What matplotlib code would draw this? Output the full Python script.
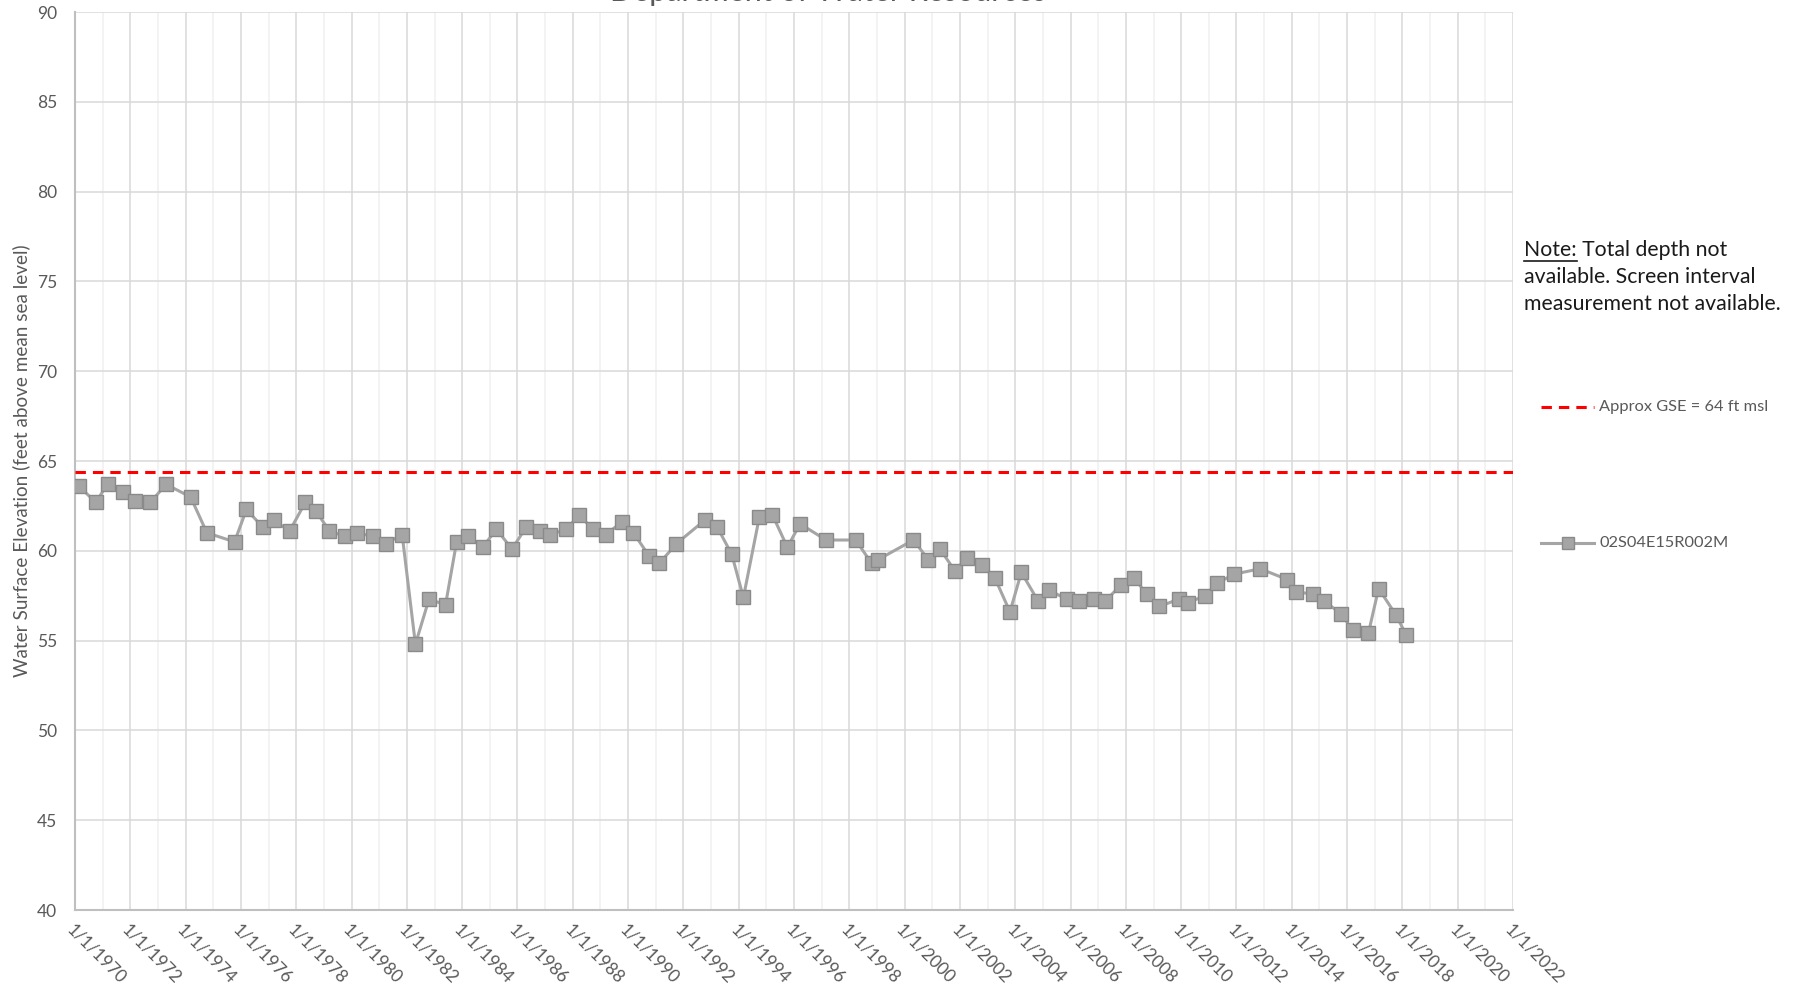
import matplotlib
matplotlib.use("Agg")
import matplotlib.pyplot as plt
from matplotlib.lines import Line2D
import numpy as np

# ---- data ----
years = [1970.14, 1970.75, 1971.19, 1971.75, 1972.17, 1972.73, 1973.29, 1974.18, 1974.77, 1975.77,
         1976.2, 1976.8, 1977.18, 1977.76, 1978.33, 1978.72, 1979.2, 1979.78, 1980.2, 1980.78,
         1981.23, 1981.83, 1982.31, 1982.8, 1983.4, 1983.8, 1984.22, 1984.74, 1985.24, 1985.8,
         1986.31, 1986.8, 1987.19, 1987.77, 1988.23, 1988.72, 1989.19, 1989.77, 1990.19, 1990.77,
         1991.13, 1991.75, 1992.77, 1993.23, 1993.75, 1994.17, 1994.75, 1995.22, 1995.76, 1996.22,
         1997.16, 1998.23, 1998.81, 1999.03, 2000.32, 2000.86, 2001.28, 2001.81, 2002.26, 2002.8,
         2003.26, 2003.81, 2004.22, 2004.83, 2005.23, 2005.87, 2006.29, 2006.86, 2007.25, 2007.83,
         2008.28, 2008.76, 2009.2, 2009.91, 2010.24, 2010.86, 2011.31, 2011.91, 2012.86, 2013.84,
         2014.16, 2014.78, 2015.18, 2015.77, 2016.2, 2016.77, 2017.14, 2017.78, 2018.14]
elevations = [63.6, 62.7, 63.74, 63.27, 62.8, 62.7, 63.7, 63.0, 61.0, 60.5,
              62.3, 61.3, 61.7, 61.1, 62.7, 62.2, 61.1, 60.8, 61.0, 60.8,
              60.4, 60.9, 54.8, 57.3, 57.0, 60.5, 60.8, 60.2, 61.2, 60.1,
              61.3, 61.1, 60.9, 61.2, 62.0, 61.2, 60.9, 61.6, 61.0, 59.7,
              59.3, 60.4, 61.7, 61.3, 59.8, 57.4, 61.9, 62.0, 60.2, 61.5,
              60.6, 60.6, 59.3, 59.5, 60.6, 59.5, 60.1, 58.9, 59.6, 59.2,
              58.5, 56.6, 58.8, 57.2, 57.8, 57.3, 57.2, 57.3, 57.2, 58.1,
              58.5, 57.6, 56.9, 57.3, 57.1, 57.5, 58.2, 58.7, 59.0, 58.4,
              57.7, 57.6, 57.2, 56.5, 55.6, 55.4, 57.9, 56.4, 55.3]
gse_level = 64.4
gse_label = "Approx GSE = 64 ft msl"
series_label = "02S04E15R002M"
tick_years = list(range(1970, 2023, 2))
tick_labels = [f"1/1/{y}" for y in tick_years]
y_ticks = list(range(40, 91, 5))
title = "Department of Water Resources"
ylabel = "Water Surface Elevation (feet above mean sea level)"
note = "Note: Total depth not\navailable. Screen interval\nmeasurement not available."

plt.rcParams['font.family'] = ['Lato', 'DejaVu Sans']

W, H = 1802, 990
fig = plt.figure(figsize=(W / 100, H / 100), dpi=100)
ax = fig.add_axes([75 / W, 80 / H, (1513 - 75) / W, (978 - 80) / H])

grid_major = "#D9D9D9"
grid_minor = "#F0F0F0"
ser_color = "#A5A5A5"
txt_gray = "#595959"

ax.set_xlim(1970, 2022)
ax.set_ylim(40, 90)
ax.set_xticks(tick_years)
ax.set_xticklabels(tick_labels, rotation=-45, ha='left', va='top',
                   rotation_mode='anchor', fontsize=12.5, color=txt_gray)
ax.set_xticks(range(1971, 2022, 2), minor=True)
ax.set_yticks(y_ticks)
ax.set_yticklabels([str(v) for v in y_ticks], fontsize=12.5, color=txt_gray)
ax.tick_params(axis='both', which='both', length=0)
ax.tick_params(axis='y', pad=13)
ax.tick_params(axis='x', pad=8)

ax.grid(True, which='major', color=grid_major, lw=1.1)
ax.grid(True, which='minor', axis='x', color=grid_minor, lw=1.1)
ax.set_axisbelow(True)
for s in ['top', 'right']:
    ax.spines[s].set_visible(False)
for s in ['left', 'bottom']:
    ax.spines[s].set_color("#BFBFBF")
    ax.spines[s].set_linewidth(1.5)

ax.axhline(gse_level, color='#FF0000', lw=2.2, dashes=(3.4, 2.3), zorder=3)
ax.plot(years, elevations, color=ser_color, lw=2.2, marker='s', ms=9.5,
        mfc=ser_color, mec="#8A8A8A", mew=1.0, zorder=4)

ax.set_ylabel(ylabel, fontsize=13.6, color=txt_gray, labelpad=5)

# title clipped at top of canvas (as in the reference)
fig.text(828 / W, 1 - 0.5 / H, title, ha='center', va='baseline', fontsize=22, color=txt_gray)

# note text
nx, ny = 1524 / W, 1 - 240 / H
t = fig.text(nx, ny, note, ha='left', va='top', fontsize=15.3, color="#1A1A1A", linespacing=1.45)
fig.canvas.draw()
r = fig.canvas.get_renderer()
tmp = fig.text(nx, ny, "Note:", ha='left', va='top', fontsize=15.3)
bb = tmp.get_window_extent(renderer=r)
tmp.remove()
uy = bb.y0 - 1
fig.add_artist(Line2D([bb.x0 / W, bb.x1 / W], [uy / H, uy / H], color="#1A1A1A", lw=1.2))

# legend entries
ly1 = 1 - 407 / H
fig.add_artist(Line2D([1541 / W, 1594 / W], [ly1, ly1], color='#FF0000', lw=2.2, dashes=(3.4, 2.3)))
fig.text(1599 / W, ly1, gse_label, ha='left', va='center', fontsize=11.8, color=txt_gray)
ly2 = 1 - 543 / H
fig.add_artist(Line2D([1541 / W, 1594 / W], [ly2, ly2], color=ser_color, lw=2.2))
fig.add_artist(Line2D([1567.5 / W], [ly2], color=ser_color, marker='s', ms=8, mfc=ser_color,
                      mec="#8A8A8A", mew=1.0, lw=0))
fig.text(1599 / W, ly2, series_label, ha='left', va='center', fontsize=11.8, color=txt_gray)

fig.savefig("out.png", dpi=100)
